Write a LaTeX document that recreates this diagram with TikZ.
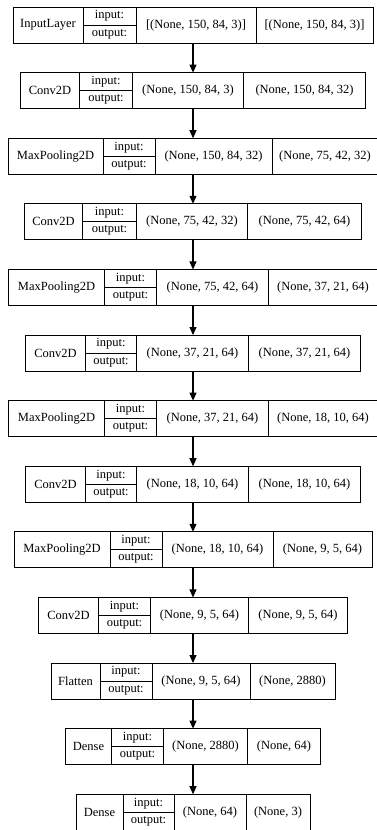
\documentclass[tikz,border=0pt]{standalone}
\usepackage{fontspec}
\setmainfont{Liberation Serif}
\usetikzlibrary{arrows.meta}

\begin{document}
\begin{tikzpicture}[
    x=1pt, y=-1pt,
    every node/.style={font=\fontsize{12.5}{14}\selectfont},
    layer/.style={draw, line width=0.9pt, minimum height=36pt, inner sep=0pt, outer sep=0pt},
    cell/.style={draw, line width=0.9pt, minimum height=36pt, inner sep=0pt, outer sep=0pt, anchor=west},
    half/.style={cell, minimum height=18pt},
    flow/.style={line width=1.1pt, -{Triangle[length=8pt,width=7pt]}}
]
\useasboundingbox (0,0) rectangle (376,830);

% one row per layer: number/name/cell widths/input shape/output shape
\foreach \k/\lbl/\cwa/\cwb/\cwc/\cwd/\shin/\shout in {
    1/InputLayer/70/53/120/117/{[(None, 150, 84, 3)]}/{[(None, 150, 84, 3)]},
    2/Conv2D/59/53/111/122/{(None, 150, 84, 3)}/{(None, 150, 84, 32)},
    3/MaxPooling2D/95/52/117/106/{(None, 150, 84, 32)}/{(None, 75, 42, 32)},
    4/Conv2D/58/54/111/114/{(None, 75, 42, 32)}/{(None, 75, 42, 64)},
    5/MaxPooling2D/96/52/112/109/{(None, 75, 42, 64)}/{(None, 37, 21, 64)},
    6/Conv2D/60/51/112/112/{(None, 37, 21, 64)}/{(None, 37, 21, 64)},
    7/MaxPooling2D/96/52/112/109/{(None, 37, 21, 64)}/{(None, 18, 10, 64)},
    8/Conv2D/60/51/112/112/{(None, 18, 10, 64)}/{(None, 18, 10, 64)},
    9/MaxPooling2D/96/52/111/99/{(None, 18, 10, 64)}/{(None, 9, 5, 64)},
    10/Conv2D/60/52/98/99/{(None, 9, 5, 64)}/{(None, 9, 5, 64)},
    11/Flatten/49/52/98/85/{(None, 9, 5, 64)}/{(None, 2880)},
    12/Dense/46/52/84/73/{(None, 2880)}/{(None, 64)},
    13/Dense/47/51/72/64/{(None, 64)}/{(None, 3)}}
{
    \pgfmathsetmacro{\y}{25+65.6*(\k-1)}
    \pgfmathsetmacro{\xa}{193-(\cwa+\cwb+\cwc+\cwd)/2}
    \pgfmathsetmacro{\xb}{\xa+\cwa}
    \pgfmathsetmacro{\xc}{\xb+\cwb}
    \pgfmathsetmacro{\xd}{\xc+\cwc}
    \node[layer, minimum width={\cwa+\cwb+\cwc+\cwd}] (L\k) at (193,\y) {};
    \node[cell, minimum width=\cwa] (L\k-name) at (\xa,\y) {\lbl};
    \node[half, minimum width=\cwb] (L\k-in) at (\xb,\y-9) {input:};
    \node[half, minimum width=\cwb] (L\k-out) at (\xb,\y+9) {output:};
    \node[cell, minimum width=\cwc] (L\k-inshape) at (\xc,\y) {\shin};
    \node[cell, minimum width=\cwd] (L\k-outshape) at (\xd,\y) {\shout};
}

% connectors
\foreach \k [evaluate=\k as \n using int(\k+1)] in {1,...,12}
    \draw[flow] (L\k.south) -- (L\n.north);
\end{tikzpicture}
\end{document}
